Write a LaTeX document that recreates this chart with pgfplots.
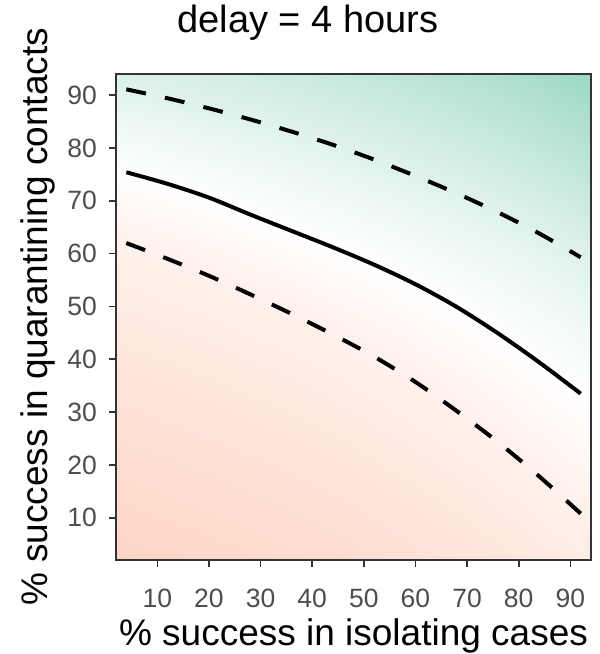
\documentclass[border=0pt]{standalone}
\usepackage{fontspec}
\setmainfont{Liberation Sans}
\usepackage{pgfplots}
\pgfplotsset{compat=1.18}
\definecolor{grey20}{RGB}{51,51,51}
\definecolor{grey30}{RGB}{77,77,77}
\begin{document}
\begin{tikzpicture}
\begin{axis}[
  name=ax,
  scale only axis, width=475pt, height=486pt,
  xmin=2, xmax=94, ymin=2, ymax=94,
  axis on top,
  xtick={10,20,...,90}, ytick={10,20,...,90},
  xtick pos=bottom, ytick pos=left,
  tick align=outside, major tick length=7pt,
  tick style={color=grey20, line width=1.6pt},
  axis line style={draw=grey20, line width=1.6pt},
  /pgf/number format/assume math mode=true,
  tick label style={font=\fontsize{26.5}{26.5}\selectfont, text=grey30, inner sep=0pt},
  xticklabel style={anchor=base, yshift=-40pt},
  yticklabel style={anchor=east, xshift=-12pt},
  colormap={gr}{rgb255=(252,141,98) rgb255=(255,255,255) rgb255=(102,194,165)},
  point meta min=-1, point meta max=1,
  title={delay = 4 hours},
  title style={at={(axis description cs:0.404,1.074)}, anchor=base, inner sep=0pt, font=\fontsize{38}{38}\selectfont},
  xlabel={\% success in isolating cases},
  xlabel style={at={(axis description cs:0.5,-0.1749)}, anchor=base, inner sep=0pt, font=\fontsize{37}{37}\selectfont},
  ylabel={\% success in quarantining contacts},
  ylabel style={at={(axis description cs:-0.1432,0.5)}, anchor=base, inner sep=0pt, font=\fontsize{37}{37}\selectfont},
]
\addplot[surf, shader=interp, point meta=explicit, mesh/rows=9, mesh/cols=9] table[x=x, y=y, meta=v] {
x y v
2 2 -0.372
13.5 2 -0.355
25 2 -0.337
36.5 2 -0.316
48 2 -0.293
59.5 2 -0.264
71 2 -0.234
82.5 2 -0.198
94 2 -0.158
2 13.5 -0.326
13.5 13.5 -0.309
25 13.5 -0.291
36.5 13.5 -0.270
48 13.5 -0.247
59.5 13.5 -0.218
71 13.5 -0.188
82.5 13.5 -0.152
94 13.5 -0.104
2 25 -0.280
13.5 25 -0.263
25 25 -0.245
36.5 25 -0.224
48 25 -0.201
59.5 25 -0.172
71 25 -0.142
82.5 25 -0.093
94 25 -0.039
2 36.5 -0.234
13.5 36.5 -0.217
25 36.5 -0.199
36.5 36.5 -0.178
48 36.5 -0.155
59.5 36.5 -0.124
71 36.5 -0.075
82.5 36.5 -0.023
94 36.5 0.035
2 48 -0.188
13.5 48 -0.171
25 48 -0.153
36.5 48 -0.132
48 48 -0.090
59.5 48 -0.045
71 48 -0.001
82.5 48 0.063
94 48 0.123
2 59.5 -0.142
13.5 59.5 -0.118
25 59.5 -0.080
36.5 59.5 -0.039
48 59.5 -0.002
59.5 59.5 0.049
71 59.5 0.104
82.5 59.5 0.158
94 59.5 0.219
2 71 -0.048
13.5 71 -0.015
25 71 0.028
36.5 71 0.073
48 71 0.116
59.5 71 0.162
71 71 0.211
82.5 71 0.280
94 71 0.363
2 82.5 0.085
13.5 82.5 0.120
25 82.5 0.159
36.5 82.5 0.196
48 82.5 0.243
59.5 82.5 0.295
71 82.5 0.355
82.5 82.5 0.424
94 82.5 0.506
2 94 0.233
13.5 94 0.263
25 94 0.299
36.5 94 0.339
48 94 0.386
59.5 94 0.439
71 94 0.499
82.5 94 0.568
94 94 0.650
};
% solid
\addplot[black, line width=4pt, smooth] coordinates {
(4,75.4) (12,73.2) (20,70.6) (28,67.4) (36,64.3) (44,61.2) (52,57.9) (60,54.2) (68,49.9) (76,44.9) (84,39.4) (92,33.5)};
% upper dashed
\addplot[black, line width=4pt, smooth, dash pattern=on 20pt off 19.5pt] coordinates {
(4,91.1) (12,89.4) (20,87.5) (28,85.4) (36,83.1) (44,80.6) (52,77.8) (60,74.7) (68,71.4) (76,67.8) (84,63.8) (92,59.3)};
% lower dashed
\addplot[black, line width=4pt, smooth, dash pattern=on 20pt off 19.5pt] coordinates {
(4,62.0) (12,59.0) (20,55.8) (28,52.3) (36,48.6) (44,44.7) (52,40.5) (60,35.7) (68,30.2) (76,24.3) (84,17.8) (92,10.8)};
\end{axis}
\path ([xshift=-116pt, yshift=-94pt]ax.south west) rectangle ([xshift=9pt, yshift=74pt]ax.north east);
\end{tikzpicture}
\end{document}
